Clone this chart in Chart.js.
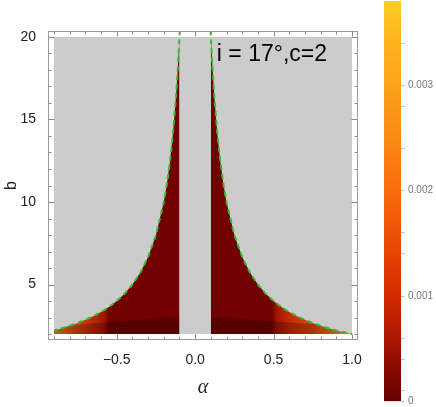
<!DOCTYPE html>
<html><head><meta charset="utf-8">
<script src="https://cdn.jsdelivr.net/npm/chart.js@4.4.0/dist/chart.umd.min.js"></script>
<style>
html,body{margin:0;padding:0;background:#fff;}
#wrap{position:relative;width:436px;height:407px;overflow:hidden;}
#main{position:absolute;left:0;top:0;}
#bar{position:absolute;left:370px;top:0;}
</style></head><body>
<div id="wrap">
<canvas id="main" width="436" height="407"></canvas>
<canvas id="bar" width="66" height="407"></canvas>
</div>
<script>
// ---------- data ----------
const titleText = 'i = 17°,c=2';
const xTicks = [-0.5, 0, 0.5, 1.0];
const xMinorTicks = [-0.9,-0.8,-0.7,-0.6,-0.5,-0.4,-0.3,-0.2,-0.1,0,0.1,0.2,0.3,0.4,0.5,0.6,0.7,0.8,0.9,1.0];
const yTicks = [5, 10, 15, 20];
const yMinorTicks = [2,3,4,5,6,7,8,9,10,11,12,13,14,15,16,17,18,19,20];

// plotted domain (gray = no value)
const domainAlpha = [-0.9, 1.0];
const domainB = [20, 20];
const bFloor = 2;

// boundary curve, left branch
const alphaLeft = [-0.9,-0.85,-0.8,-0.75,-0.7,-0.65,-0.6,-0.55,-0.5,-0.45,-0.4,-0.35,-0.3,-0.25,-0.2,-0.18,-0.16,-0.14,-0.12,-0.11,-0.1];
const bLeft     = [2.22,2.35,2.5,2.67,2.86,3.08,3.33,3.64,4.0,4.44,5.0,5.71,6.67,8.0,10.0,11.1,12.5,14.3,16.7,18.2,20.0];
// boundary curve, right branch
const alphaRight = [0.1,0.11,0.12,0.14,0.16,0.18,0.2,0.25,0.3,0.35,0.4,0.45,0.5,0.55,0.6,0.65,0.7,0.75,0.8,0.85,0.9,0.95,1.0];
const bRight     = [20.0,18.2,16.7,14.3,12.5,11.1,10.0,8.0,6.67,5.71,5.0,4.44,4.0,3.64,3.33,3.08,2.86,2.67,2.5,2.35,2.22,2.11,2.0];
// boundary continuing above b=20 (dashed line only)
const edgeTopAlpha = [-0.098, 0.098];
const edgeTopB = [20.4, 20.4];

// darker low-b band
const bandLeftAlpha = [-0.9,-0.85,-0.8,-0.7,-0.6,-0.5,-0.4,-0.3,-0.2,-0.1];
const bandLeftB     = [2.22,2.35,2.5,2.6,2.68,2.75,2.83,2.9,2.97,3.04];
const bandRightAlpha = [0.1,0.2,0.3,0.4,0.5,0.6,0.7,0.75,0.8,0.85,0.9,0.95,1.0];
const bandRightB     = [3.04,2.97,2.9,2.83,2.76,2.7,2.64,2.62,2.5,2.35,2.22,2.11,2.0];

// colour bar
const cbMax = 0.0038;
const cbMajor = [0, 0.001, 0.002, 0.003];
const cbLabels = ['0', '0.001', '0.002', '0.003'];
const cbMinor = [0.0001, 0.0004, 0.0006, 0.0014, 0.0016, 0.0024, 0.0028, 0.0034];
const cbStopValues = [0, 0.0005, 0.001, 0.0015, 0.002, 0.0025, 0.003, 0.0035, 0.0038];

// ---------- styles ----------
const cbStopColors = ['#640000','#a01200','#d22a00','#ea4a04','#f86c0e','#fb8a14','#fca21a','#fdb81f','#fdcf25'];
const leftStops = [[-0.9,'#e88a2a'],[-0.85,'#e26a1c'],[-0.75,'#d24410'],[-0.65,'#bb2a06'],[-0.58,'#a01500'],[-0.55,'#730000'],[-0.1,'#730000']];
const rightStops = [[0.1,'#730000'],[0.49,'#730000'],[0.52,'#a01500'],[0.6,'#c42a04'],[0.75,'#dc4a10'],[0.88,'#e67a20'],[1.0,'#f0b040']];

function pts(xs, ys){ return xs.map((a,i)=>({x:a, y:ys[i]})); }
function hGrad(stops){
  return (c)=>{
    const ch = c.chart; if(!ch.chartArea) return '#730000';
    const x = ch.scales.x;
    const x0 = x.getPixelForValue(stops[0][0]), x1 = x.getPixelForValue(stops[stops.length-1][0]);
    const g = ch.ctx.createLinearGradient(x0,0,x1,0);
    stops.forEach(s=>g.addColorStop((x.getPixelForValue(s[0])-x0)/(x1-x0), s[1]));
    return g;
  };
}
const near = (arr,v)=>arr.some(a=>Math.abs(a-v)<1e-9);
const fmtX = v => (Math.abs(v)<1e-9 ? '0.0' : v.toFixed(1).replace('-', '\u2212'));

const framePlugin = {
  id:'frame',
  afterDraw(chart){
    const {ctx, chartArea:a, scales:{x,y}} = chart;
    ctx.save();
    ctx.lineWidth = 1;
    ctx.strokeStyle = '#9c9c9c';
    const L = Math.round(a.left)+0.5, R = Math.round(a.right)-0.5, T = Math.round(a.top)+0.5, B = Math.round(a.bottom)-0.5;
    ctx.strokeRect(L, T, R-L, B-T);
    ctx.strokeStyle = '#8c8c8c';
    ctx.beginPath();
    xMinorTicks.forEach(v=>{
      const p = Math.round(x.getPixelForValue(v))+0.5;
      const len = near(xTicks,v) ? 5 : 3;
      ctx.moveTo(p,B); ctx.lineTo(p,B-len);
      ctx.moveTo(p,T); ctx.lineTo(p,T+len);
    });
    yMinorTicks.forEach(v=>{
      const p = Math.round(y.getPixelForValue(v))+0.5;
      const len = near(yTicks,v) ? 6 : 3;
      ctx.moveTo(L,p); ctx.lineTo(L+len,p);
      ctx.moveTo(R,p); ctx.lineTo(R-len,p);
    });
    ctx.stroke();
    // label inside plot
    ctx.fillStyle = '#000';
    ctx.font = '23px "Liberation Sans", Arial, sans-serif';
    ctx.textAlign = 'left';
    ctx.textBaseline = 'alphabetic';
    ctx.fillText(titleText, x.getPixelForValue(0.138), y.getPixelForValue(18.52));
    ctx.restore();
  }
};

const greenLine = {borderColor:'#2fbf2f', borderWidth:2, borderDash:[5,4], pointRadius:0, fill:false, tension:0, order:1};

new Chart(document.getElementById('main'), {
  type:'line',
  data:{datasets:[
    {data:pts(domainAlpha, domainB), fill:{value:bFloor}, backgroundColor:'#cccccc', borderWidth:0, pointRadius:0, order:6},
    {data:pts(alphaLeft, bLeft), fill:{value:bFloor}, backgroundColor:hGrad(leftStops), borderWidth:0, pointRadius:0, order:5, tension:0},
    {data:pts(alphaRight, bRight), fill:{value:bFloor}, backgroundColor:hGrad(rightStops), borderWidth:0, pointRadius:0, order:5, tension:0},
    {data:pts(bandLeftAlpha, bandLeftB), fill:{value:bFloor}, backgroundColor:'rgba(0,0,0,0.24)', borderWidth:0, pointRadius:0, order:4},
    {data:pts(bandRightAlpha, bandRightB), fill:{value:bFloor}, backgroundColor:'rgba(0,0,0,0.24)', borderWidth:0, pointRadius:0, order:4},
    Object.assign({data:pts([edgeTopAlpha[0]].concat(alphaLeft.slice().reverse()), [edgeTopB[0]].concat(bLeft.slice().reverse()))}, greenLine),
    Object.assign({data:pts([edgeTopAlpha[1]].concat(alphaRight), [edgeTopB[1]].concat(bRight))}, greenLine)
  ]},
  options:{
    responsive:false, animation:false, devicePixelRatio:1,
    layout:{padding:{top:31,right:78,bottom:0,left:0}},
    plugins:{legend:{display:false}, tooltip:{enabled:false}},
    scales:{
      x:{type:'linear', min:-0.938, max:1.038,
        afterBuildTicks:s=>{ s.ticks = xTicks.map(v=>({value:v})); },
        afterFit:s=>{ s.height = 67; },
        grid:{display:false}, border:{display:false},
        ticks:{padding:4, color:'#222', maxRotation:0, autoSkip:false,
          font:{family:'"Liberation Sans", Arial, sans-serif', size:14}, callback:v=>fmtX(v)},
        title:{display:true, text:'α', color:'#222', padding:{top:0,bottom:7},
          font:{family:'"Liberation Serif", serif', size:20, style:'italic'}}
      },
      y:{type:'linear', min:1.64, max:20.36,
        afterBuildTicks:s=>{ s.ticks = yTicks.map(v=>({value:v})); },
        afterFit:s=>{ s.width = 48; },
        grid:{display:false}, border:{display:false},
        ticks:{padding:4, color:'#222', autoSkip:false,
          font:{family:'"Liberation Sans", Arial, sans-serif', size:14}, callback:v=>String(v)},
        title:{display:true, text:'b', color:'#222', padding:{top:2,bottom:0},
          font:{family:'"Liberation Sans", Arial, sans-serif', size:16}}
      }
    }
  },
  plugins:[framePlugin]
});

// colour bar
const cbAll = cbMajor.concat(cbMinor).sort((a,b)=>a-b);
new Chart(document.getElementById('bar'), {
  type:'bar',
  data:{labels:[''], datasets:[{data:[cbMax], borderWidth:0, barPercentage:1, categoryPercentage:1,
    backgroundColor:(c)=>{
      const ch = c.chart; if(!ch.chartArea) return '#c02000';
      const y = ch.scales.y;
      const y0 = y.getPixelForValue(0), y1 = y.getPixelForValue(cbMax);
      const g = ch.ctx.createLinearGradient(0,y0,0,y1);
      cbStopValues.forEach((v,i)=>g.addColorStop(v/cbMax, cbStopColors[i]));
      return g;
    }}]},
  options:{
    responsive:false, animation:false, devicePixelRatio:1,
    layout:{padding:{top:1,left:14,bottom:5.5,right:0}},
    plugins:{legend:{display:false}, tooltip:{enabled:false}},
    scales:{
      x:{display:false},
      y:{position:'right', min:0, max:cbMax,
        afterBuildTicks:s=>{ s.ticks = cbAll.map(v=>({value:v})); },
        afterFit:s=>{ s.width = 35; s.paddingTop = 0; s.paddingBottom = 0; },
        grid:{display:true, drawOnChartArea:false, drawTicks:true, tickLength:4, color:'#cccccc', tickColor:'#c4c4c4'},
        border:{display:false},
        ticks:{padding:3, color:'#777', autoSkip:false,
          font:{family:'"Liberation Sans", Arial, sans-serif', size:10},
          callback:(v)=>{ const i = cbMajor.findIndex(m=>Math.abs(m-v)<1e-12); return i>=0 ? cbLabels[i] : ''; }}
      }
    }
  }
});
</script>
</body></html>
